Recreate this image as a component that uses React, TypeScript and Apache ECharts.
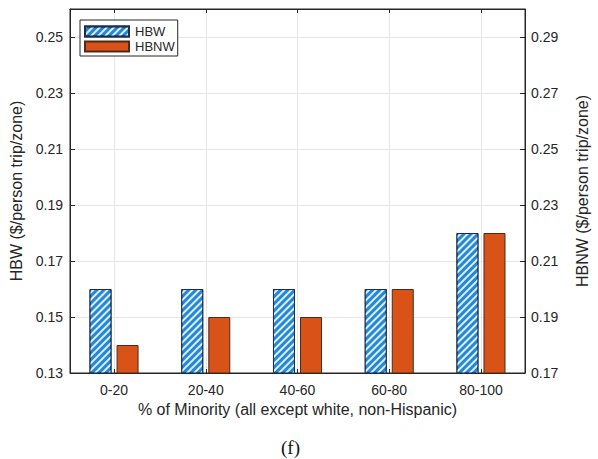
import React, { useEffect, useRef } from "react";
import * as echarts from "echarts";

const categories = ["0-20", "20-40", "40-60", "60-80", "80-100"];
const hbwValues = [0.16, 0.16, 0.16, 0.16, 0.18];
const hbnwValues = [0.18, 0.19, 0.19, 0.2, 0.22];
const leftTicks = [0.13, 0.15, 0.17, 0.19, 0.21, 0.23, 0.25];
const rightTicks = [0.17, 0.19, 0.21, 0.23, 0.25, 0.27, 0.29];
const categoryPositions = [1, 2, 3, 4, 5];

const FONT = "Liberation Sans, Arial, sans-serif";
const INK = "#262626";

export default function App() {
  const ref = useRef<HTMLDivElement>(null);
  useEffect(() => {
    if (!ref.current) return;
    const chart = echarts.init(ref.current, null, { renderer: "svg" });
    const hbwData = categoryPositions.map((x, i) => [x, hbwValues[i]]);
    const hbnwData = categoryPositions.map((x, i) => [x, hbnwValues[i]]);
    chart.setOption({
      animation: false,
      backgroundColor: "#ffffff",
      textStyle: { fontFamily: FONT },
      grid: {
        left: 70,
        right: 66,
        top: 9,
        bottom: 86,
        show: true,
        borderColor: INK,
        borderWidth: 1,
        backgroundColor: "transparent",
      },
      legend: {
        orient: "vertical",
        left: 80,
        top: 20,
        itemWidth: 44,
        itemHeight: 10,
        itemGap: 2,
        icon: "rect",
        padding: [5, 3, 3, 4],
        borderColor: INK,
        borderWidth: 1,
        borderRadius: 0,
        backgroundColor: "#ffffff",
        textStyle: { fontFamily: FONT, fontSize: 13, color: INK, padding: [0, 0, 0, 1] },
        data: ["HBW", "HBNW"],
      },
      xAxis: [
        {
          type: "value",
          position: "bottom",
          min: 0.52,
          max: 5.48,
          name: "% of Minority (all except white, non-Hispanic)",
          nameLocation: "middle",
          nameGap: 28,
          nameTextStyle: { fontFamily: FONT, fontSize: 16, color: INK },
          axisLine: { show: true, onZero: false, lineStyle: { color: INK } },
          axisTick: { show: true, inside: true, length: 4, customValues: categoryPositions, lineStyle: { color: INK } },
          axisLabel: {
            customValues: categoryPositions,
            fontFamily: FONT,
            fontSize: 14,
            color: INK,
            margin: 10,
            formatter: (v: number) => categories[Math.round(v) - 1] ?? "",
          },
          splitLine: { show: false },
        },
        {
          type: "value",
          position: "top",
          min: 0.52,
          max: 5.48,
          axisLine: { show: true, onZero: false, lineStyle: { color: INK } },
          axisTick: { show: true, inside: true, length: 4, customValues: categoryPositions, lineStyle: { color: INK } },
          axisLabel: { show: false },
          splitLine: { show: true, lineStyle: { color: "#e6e6e6", width: 1 } },
        },
      ],
      yAxis: [
        {
          type: "value",
          position: "left",
          min: 0.13,
          max: 0.26,
          name: "HBW ($/person trip/zone)",
          nameLocation: "middle",
          nameGap: 38,
          nameTextStyle: { fontFamily: FONT, fontSize: 16, color: INK },
          axisLine: { show: true, onZero: false, lineStyle: { color: INK } },
          axisTick: { show: true, inside: true, length: 5, customValues: leftTicks, lineStyle: { color: INK } },
          axisLabel: {
            customValues: leftTicks,
            fontFamily: FONT,
            fontSize: 14,
            color: INK,
            margin: 7,
            formatter: (v: number) => v.toFixed(2),
          },
          splitLine: { show: true, lineStyle: { color: "#e6e6e6", width: 1 } },
        },
        {
          type: "value",
          position: "right",
          min: 0.17,
          max: 0.3,
          name: "HBNW ($/person trip/zone)",
          nameLocation: "middle",
          nameGap: 49,
          nameTextStyle: { fontFamily: FONT, fontSize: 16, color: INK },
          axisLine: { show: true, onZero: false, lineStyle: { color: INK } },
          axisTick: { show: true, inside: true, length: 5, customValues: rightTicks, lineStyle: { color: INK } },
          axisLabel: {
            customValues: rightTicks,
            fontFamily: FONT,
            fontSize: 14,
            color: INK,
            margin: 6,
            formatter: (v: number) => v.toFixed(2),
          },
          splitLine: { show: false },
        },
      ],
      series: [
        {
          name: "HBW",
          type: "bar",
          xAxisIndex: 0,
          yAxisIndex: 0,
          data: hbwData,
          barWidth: 22,
          barGap: "23%",
          itemStyle: {
            color: "#2288d8",
            borderColor: "#1b2f4d",
            borderWidth: 1,
            decal: {
              symbol: "rect",
              symbolSize: 1,
              color: "rgba(255,255,255,0.85)",
              dashArrayX: [1, 0],
              dashArrayY: [1.3, 2.2],
              rotation: -Math.PI / 4,
            },
          },
        },
        {
          name: "HBNW",
          type: "bar",
          xAxisIndex: 0,
          yAxisIndex: 1,
          data: hbnwData,
          barWidth: 22,
          barGap: "23%",
          itemStyle: {
            color: "#d95319",
            borderColor: "#4a2a1a",
            borderWidth: 1,
          },
        },
      ],
      graphic: [
        {
          type: "text",
          left: 281,
          top: 438,
          style: {
            text: "(f)",
            font: "19px 'Liberation Serif', 'Times New Roman', serif",
            fill: "#111111",
          },
        },
      ],
    });
    return () => chart.dispose();
  }, []);
  return (
    <div
      ref={ref}
      style={{ position: "fixed", left: 0, top: 0, width: 598, height: 459 }}
    />
  );
}
